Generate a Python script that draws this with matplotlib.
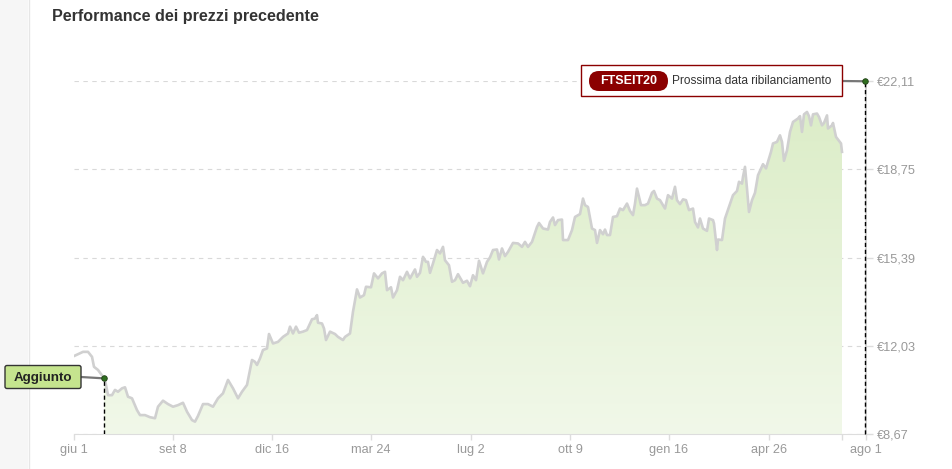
import numpy as np
import pandas as pd
import matplotlib
matplotlib.use('Agg')
import matplotlib.pyplot as plt
import matplotlib.dates as mdates
from matplotlib.patches import FancyBboxPatch, Rectangle, ConnectionPatch
from matplotlib.lines import Line2D
from matplotlib.colors import LinearSegmentedColormap
from matplotlib.transforms import Affine2D

plt.rcParams['font.family'] = ['Liberation Sans', 'DejaVu Sans']

# dati: giorni dal 1 giugno 2023 e prezzo (EUR)
start = '2023-06-01'
days = [0, 9, 14, 18, 20, 24, 29, 31, 34, 38, 41, 44, 48, 51, 54, 58, 63, 66, 71, 76,
        81, 84, 89, 94, 99, 104, 109, 113, 118, 121, 124, 129, 134, 139, 144, 149, 154, 159, 164, 168,
        173, 178, 181, 183, 186, 189, 193, 195, 199, 204, 209, 214, 216, 219, 222, 225, 229, 233, 238, 241,
        243, 244, 248, 250, 252, 256, 261, 264, 269, 271, 276, 279, 283, 286, 290, 292, 297, 300, 304, 308,
        311, 313, 317, 319, 323, 326, 329, 333, 336, 341, 343, 346, 349, 352, 354, 356, 359, 363, 366, 369,
        371, 375, 378, 381, 384, 389, 393, 396, 399, 402, 405, 409, 413, 416, 419, 423, 425, 428, 431, 434,
        439, 444, 448, 451, 454, 458, 463, 465, 469, 474, 476, 479, 481, 484, 488, 489, 494, 498, 501, 506,
        509, 511, 514, 518, 521, 523, 526, 529, 531, 533, 536, 539, 543, 546, 549, 553, 556, 559, 561, 563,
        567, 571, 574, 578, 580, 583, 586, 589, 591, 594, 598, 601, 603, 606, 609, 612, 615, 619, 621, 624,
        626, 629, 633, 635, 639, 640, 643, 644, 648, 651, 655, 659, 663, 665, 668, 669, 671, 673, 675, 678,
        681, 684, 689, 692, 694, 697, 699, 703, 706, 708, 710, 713, 716, 719, 724, 726, 728, 730, 733, 735,
        737, 739, 743, 745, 748, 750, 753, 754, 758, 759, 762, 764, 767, 768]
prices = [11.64, 11.80, 11.80, 11.61, 11.23, 11.11, 10.85, 10.73, 10.15, 10.15, 10.35, 10.28, 10.41, 10.45, 10.09, 10.03, 9.58, 9.39, 9.39, 9.31,
          9.27, 9.71, 9.94, 9.81, 9.71, 9.77, 9.86, 9.52, 9.20, 9.14, 9.36, 9.81, 9.81, 9.71, 10.03, 10.22, 10.73, 10.41, 10.03, 10.28,
          10.54, 11.49, 11.42, 11.30, 11.55, 11.87, 11.93, 12.48, 12.12, 12.18, 12.37, 12.50, 12.76, 12.50, 12.76, 12.53, 12.57, 12.63, 13.04, 13.07,
          13.20, 12.91, 12.88, 12.69, 12.25, 12.57, 12.48, 12.37, 12.25, 12.37, 12.50, 13.33, 14.18, 13.87, 13.96, 14.28, 14.26, 14.79, 14.60, 14.79,
          14.85, 14.15, 14.26, 13.87, 14.15, 14.66, 14.53, 14.85, 14.60, 14.94, 14.66, 14.81, 15.42, 15.23, 15.23, 14.81, 15.17, 15.68, 15.55, 15.80,
          15.29, 15.10, 14.47, 14.53, 14.76, 14.43, 14.51, 14.30, 14.72, 14.53, 15.27, 14.79, 15.23, 15.40, 15.68, 15.70, 15.32, 15.74, 15.45, 15.61,
          15.95, 15.93, 15.80, 15.99, 15.80, 15.99, 16.56, 16.71, 16.50, 16.46, 16.75, 16.92, 16.63, 16.82, 16.84, 16.06, 16.06, 16.44, 16.94, 17.05,
          17.64, 17.39, 17.32, 16.50, 16.44, 15.95, 16.44, 16.28, 16.46, 16.25, 16.25, 16.94, 16.97, 17.26, 17.20, 17.45, 17.17, 17.01, 17.45, 18.02,
          17.39, 17.39, 17.45, 17.86, 17.93, 17.64, 17.58, 17.39, 17.26, 17.77, 17.64, 18.09, 17.58, 17.43, 17.61, 17.58, 17.20, 17.26, 16.75, 16.54,
          16.88, 16.50, 16.41, 16.88, 16.82, 16.69, 15.68, 16.08, 16.06, 16.88, 17.32, 17.77, 17.93, 18.28, 18.21, 18.47, 18.85, 18.02, 17.13, 17.58,
          17.86, 18.53, 18.95, 18.79, 19.04, 19.42, 19.74, 19.80, 20.05, 19.80, 19.08, 19.48, 20.18, 20.56, 20.69, 20.78, 20.18, 20.85, 20.94, 20.78,
          20.43, 20.85, 20.88, 20.75, 20.43, 20.52, 20.81, 20.31, 20.43, 20.52, 19.99, 19.89, 19.74, 19.42]

y_ticks = [8.67, 12.03, 15.39, 18.75, 22.11]
y_labels = ['€8,67', '€12,03', '€15,39', '€18,75', '€22,11']
x_ticks = ['2023-06-01', '2023-09-08', '2023-12-16', '2024-03-24', '2024-07-02',
           '2024-10-09', '2025-01-16', '2025-04-26', '2025-08-01']
x_labels = ['giu 1', 'set 8', 'dic 16', 'mar 24', 'lug 2', 'ott 9', 'gen 16', 'apr 26', 'ago 1']
added_date = '2023-07-01'
rebalance_date = '2025-07-31'

dates = pd.Timestamp(start) + pd.to_timedelta(days, unit='D')
xnum = mdates.date2num(dates)
prices = np.array(prices)

W, H = 952, 469
fig = plt.figure(figsize=(W / 100, H / 100), dpi=100)
fig.patch.set_facecolor('white')
# coordinate in pixel, origine in alto a sinistra
px = Affine2D().scale(1 / W, -1 / H).translate(0, 1) + fig.transFigure

# striscia grigia a sinistra
fig.add_artist(Rectangle((0, 0), 28, H, transform=px, fc='#f6f6f6', ec='none', zorder=0))
fig.add_artist(Line2D([28.5, 28.5], [0, H], transform=px, color='#e6e6e6', lw=1, zorder=0))

fig.text(52 / W, 1 - 17 / H, 'Performance dei prezzi precedente', weight='bold',
         size=11.6, color='#333333', va='center', ha='left')

ax = fig.add_axes([74 / W, 1 - 434 / H, (866 - 74) / W, (434 - 81) / H])

ymin, ymax = y_ticks[0], y_ticks[-1]
x0 = mdates.date2num(pd.Timestamp(x_ticks[0]))
x1 = mdates.date2num(pd.Timestamp(x_ticks[-1]))

ad = mdates.date2num(pd.Timestamp(added_date))
ap = float(np.interp(ad, xnum, prices))

# area con gradiente, solo dalla data di aggiunta
keep = xnum > ad
fill_x = np.concatenate([[ad], xnum[keep]])
fill_y = np.concatenate([[ap], prices[keep]])
poly = ax.fill_between(fill_x, fill_y, ymin, color='none', lw=0)
grad = np.linspace(0, 1, 256).reshape(-1, 1)
cmap = LinearSegmentedColormap.from_list('g', ['#f1f8e9', '#dcedc8'])
im = ax.imshow(grad, cmap=cmap, aspect='auto', origin='lower',
               extent=[xnum[0], xnum[-1], ymin, max(prices)], zorder=1)
im.set_clip_path(poly.get_paths()[0], transform=ax.transData)
ax.plot(xnum, prices, color='#d0d0d0', lw=1.9, zorder=2, solid_joinstyle='round')

ax.set_xlim(x0, x1)
ax.set_ylim(ymin, ymax + 0.01)

# assi
tick_pos = [mdates.date2num(pd.Timestamp(d)) for d in x_ticks] + [xnum[-1]]
ax.set_xticks(tick_pos)
ax.set_xticklabels(x_labels + [''])
ax.yaxis.tick_right()
ax.set_yticks(y_ticks)
ax.set_yticklabels(y_labels)
ax.tick_params(axis='x', colors='#dddddd', labelcolor='#999999', labelsize=9.2,
               length=4, width=1, pad=3)
ax.tick_params(axis='y', colors='#dddddd', labelcolor='#999999', labelsize=9.2,
               length=5, width=1, pad=2.5)
ax.yaxis.grid(True, color='#d9d9d9', lw=0.8, ls=(0, (4, 4)))
ax.set_axisbelow(True)
for s in ['top', 'left']:
    ax.spines[s].set_visible(False)
ax.spines['bottom'].set_color('#dddddd')
ax.spines['right'].set_color('#cccccc')
ax.spines['right'].set_linewidth(1.2)

# marcatore "Aggiunto"
ax.plot([ad, ad], [ymin, ap], color='black', lw=1, ls=(0, (3, 2)), zorder=4)
fig.add_artist(ConnectionPatch((81, 377), (ad, ap), coordsA=px, coordsB=ax.transData,
                               color='#777777', lw=1.6, zorder=3))
fig.add_artist(FancyBboxPatch((5, 365.5), 76, 23, boxstyle='round,pad=0,rounding_size=2',
                              transform=px, fc='#c5e48e', ec='#333333', lw=1, zorder=3))
fig.text(43 / W, 1 - 377.5 / H, 'Aggiunto', weight='bold', size=9.6, color='#222222',
         ha='center', va='center', zorder=4)
fig.add_artist(Line2D([ad], [ap], transform=ax.transData, marker='o', ms=4,
                      mfc='#2f6e1f', mec='#1f3f14', mew=0.6, zorder=5))

# marcatore ribilanciamento
rd = mdates.date2num(pd.Timestamp(rebalance_date))
ax.plot([rd, rd], [ymin, ymax], color='black', lw=1, ls=(0, (3, 2)), zorder=4, clip_on=False)
fig.add_artist(ConnectionPatch((841, 81), (rd, ymax), coordsA=px, coordsB=ax.transData,
                               color='#777777', lw=1.6, zorder=3))
fig.add_artist(Rectangle((580.5, 65.5), 261, 31, transform=px, fc='white',
                         ec='#8b0000', lw=1, zorder=3))
fig.add_artist(FancyBboxPatch((589, 71), 79, 20, boxstyle='round,pad=0,rounding_size=10',
                              transform=px, fc='#8b0000', ec='none', zorder=4))
fig.text(629 / W, 1 - 81.5 / H, 'FTSEIT20', weight='bold', size=9, color='white',
         ha='center', va='center', zorder=5)
fig.text(672.5 / W, 1 - 81.5 / H, 'Prossima data ribilanciamento', size=8.6, color='#333333',
         ha='left', va='center', zorder=5)
fig.add_artist(Line2D([rd], [ymax], transform=ax.transData, marker='o', ms=4,
                      mfc='#2f6e1f', mec='#1f3f14', mew=0.6, zorder=5))

fig.savefig('out.png', dpi=100)
